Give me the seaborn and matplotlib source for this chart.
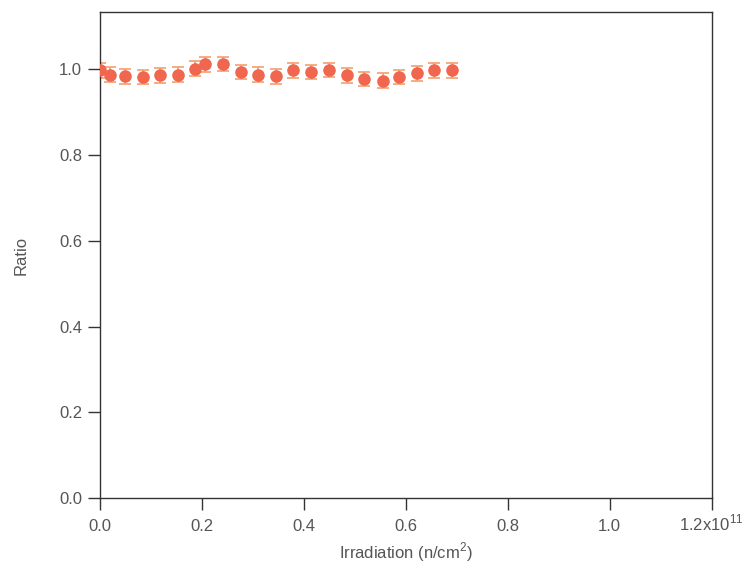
import matplotlib
matplotlib.use("Agg")
import matplotlib.pyplot as plt
import seaborn as sns
import pandas as pd

# Irradiation in units of 1e11 n/cm^2
irradiation = [0.001, 0.021, 0.050, 0.085, 0.119, 0.153, 0.187, 0.207, 0.243, 0.277, 0.311,
               0.346, 0.380, 0.415, 0.449, 0.485, 0.519, 0.555, 0.588, 0.622, 0.656, 0.691]
ratio = [0.998, 0.988, 0.984, 0.982, 0.986, 0.988, 1.002, 1.012, 1.013, 0.994, 0.988,
         0.984, 0.998, 0.994, 0.999, 0.986, 0.978, 0.974, 0.982, 0.991, 0.998, 0.998]
ratio_err = [0.017] * len(ratio)
x_ticks = [0.0, 0.2, 0.4, 0.6, 0.8, 1.0, 1.2]
x_tick_labels = ["0.0", "0.2", "0.4", "0.6", "0.8", "1.0", "1.2x10$^{11}$"]
y_ticks = [0.0, 0.2, 0.4, 0.6, 0.8, 1.0]

sns.set_style("ticks")
plt.rcParams['font.family'] = ['Liberation Sans', 'DejaVu Sans']
plt.rcParams['mathtext.fontset'] = 'custom'
plt.rcParams['mathtext.rm'] = 'Liberation Sans'

df = pd.DataFrame({"irr": irradiation, "ratio": ratio, "err": ratio_err})

fig = plt.figure(figsize=(7.45, 5.7), dpi=100)
ax = fig.add_axes([0.1336, 0.1263, 0.8215, 0.8526])

ax.errorbar(df["irr"], df["ratio"], yerr=df["err"], fmt="none", ecolor="#F2A06E",
            elinewidth=1.2, capsize=4.3, capthick=1.2, zorder=2)
sns.scatterplot(data=df, x="irr", y="ratio", ax=ax, color="#F0664E", s=82,
                edgecolor="#F0664E", linewidth=0, zorder=3, legend=False)

ax.set_xlim(0, 1.2)
ax.set_ylim(0, 1.134)
ax.set_xticks(x_ticks)
ax.set_xticklabels(x_tick_labels)
ax.set_yticks(y_ticks)
ax.set_yticklabels([f"{v:.1f}" for v in y_ticks])
ax.tick_params(axis="both", direction="out", length=8.6, width=1, colors="#333333",
               labelsize=12, labelcolor="#555555")
ax.tick_params(axis="y", pad=4)
ax.tick_params(axis="x", pad=14.8)
for lab in ax.get_xticklabels():
    lab.set_verticalalignment("baseline")
for s in ax.spines.values():
    s.set_visible(True)
    s.set_color("#333333")
    s.set_linewidth(1)
ax.set_xlabel("Irradiation (n/cm$^2$)", fontsize=12, color="#555555")
ax.xaxis.label.set_verticalalignment("baseline")
ax.xaxis.set_label_coords(0.5, -0.1235)
ax.set_ylabel("Ratio", fontsize=12, color="#555555")
ax.yaxis.label.set_verticalalignment("center")
ax.yaxis.set_label_coords(-0.128, 0.5)

fig.savefig("out.png", dpi=100)
